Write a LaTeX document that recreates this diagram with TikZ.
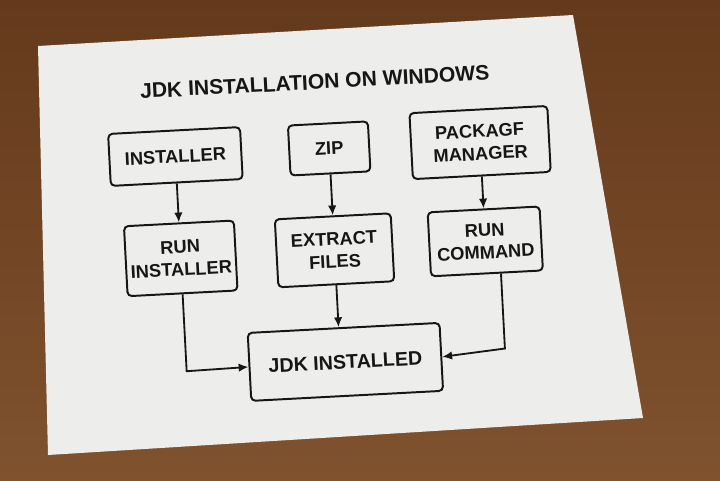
\documentclass[tikz,border=0pt]{standalone}
\usepackage{fontspec}
\setmainfont{Liberation Sans}
\usepackage{xcolor}
\usepackage{tikz}
\usetikzlibrary{positioning,calc,arrows.meta}
\definecolor{WoodBrown}{RGB}{100,58,28}
\definecolor{WoodLight}{RGB}{128,82,46}
\definecolor{PaperWhite}{RGB}{237,237,235}
\definecolor{InkBlack}{RGB}{22,22,22}
\tikzset{
    stepbox/.style={draw=InkBlack, fill=PaperWhite, line width=1.4pt, rounded corners=3pt, align=center, inner sep=2pt, text=InkBlack, font=\bfseries\fontsize{13}{16}\selectfont},
    flowarrow/.style={draw=InkBlack, line width=1.3pt, -{Latex[length=7pt,width=6pt]}}
}

\begin{document}
\begin{tikzpicture}[x=0.025cm, y=-0.025cm]

        % --- NỀN ---
        \useasboundingbox (0,0) rectangle (720,480);
        \shade[top color=WoodBrown, bottom color=WoodLight] (0,0) rectangle (720,480);
        % Tờ giấy
        \fill[PaperWhite] (38,46) -- (573,15) -- (643,418) -- (48,455) -- cycle;

        % --- SƠ ĐỒ ---
        \begin{scope}[rotate around={3:(340,240)}, every node/.append style={transform shape}]
            % Tiêu đề
            \node[text=InkBlack, font=\bfseries\fontsize{15}{17}\selectfont] (title) at (323,81) {JDK INSTALLATION ON WINDOWS};

            % Hàng trên
            \node[stepbox, minimum width=3.3cm, minimum height=1.3cm] (installer) at (180,148) {INSTALLER};
            \node[stepbox, minimum width=2cm, minimum height=1.25cm] (zip) at (334,148) {ZIP};
            \node[stepbox, minimum width=3.45cm, minimum height=1.65cm] (pkgmgr) at (485,150) {PACKAGF\\MANAGER};

            % Hàng giữa
            \node[stepbox, minimum width=2.75cm, minimum height=1.75cm] (runinst) at (180,250) {RUN\\INSTALLER};
            \node[stepbox, minimum width=2.9cm, minimum height=1.7cm] (extract) at (334,250) {EXTRACT\\FILES};
            \node[stepbox, minimum width=2.8cm, minimum height=1.6cm] (runcmd) at (485,249) {RUN\\COMMAND};

            % Kết quả
            \node[stepbox, minimum width=4.8cm, minimum height=1.7cm, font=\bfseries\fontsize{14}{16}\selectfont] (jdk) at (339,362) {JDK INSTALLED};

            % Điểm gấp của đường nối
            \coordinate (elbowL) at (180,363);
            \coordinate (elbowR) at (499,357);

            % --- MŨI TÊN ---
            \draw[flowarrow] (installer.south) -- (runinst.north);
            \draw[flowarrow] (zip.south) -- (extract.north);
            \draw[flowarrow] (pkgmgr.south) -- (runcmd.north);
            \draw[flowarrow] (extract.south) -- (extract.south |- jdk.north);
            \draw[flowarrow] (runinst.south) -- (elbowL) -- (jdk.west);
            \draw[flowarrow] ([xshift=0.35cm]runcmd.south) -- (elbowR) -- (jdk.east);
        \end{scope}

    \end{tikzpicture}
\end{document}
